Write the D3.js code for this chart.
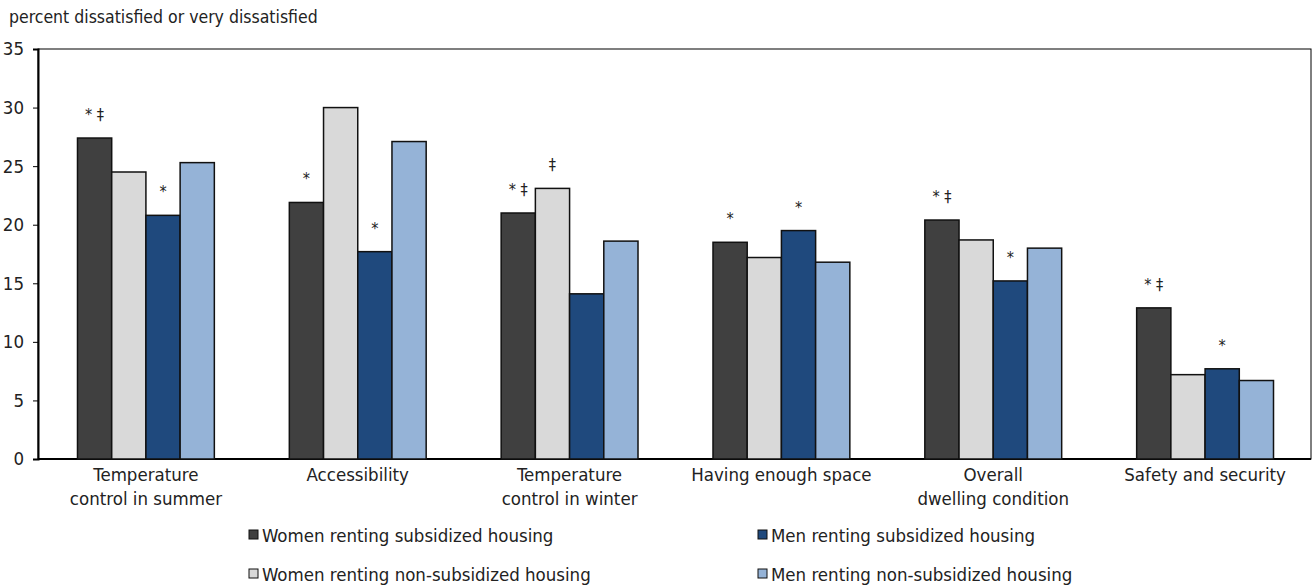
<!DOCTYPE html>
<html>
<head>
<meta charset="utf-8">
<script src="https://cdn.jsdelivr.net/npm/d3@7"></script>
<style>
  body { margin: 0; background: #fff; }
  text { font-family: "Liberation Sans Narrow", "DejaVu Sans Condensed", sans-serif; fill: #222; }
</style>
</head>
<body>
<div id="container"></div>
<script>
const categories = [
  ["Temperature", "control in summer"],
  ["Accessibility"],
  ["Temperature", "control in winter"],
  ["Having enough space"],
  ["Overall", "dwelling condition"],
  ["Safety and security"]
];
const series = [
  "Women renting subsidized housing",
  "Women renting non-subsidized housing",
  "Men renting subsidized housing",
  "Men renting non-subsidized housing"
];
const womenSub    = [27.4, 21.9, 21.0, 18.5, 20.4, 12.9];
const womenNonSub = [24.5, 30.0, 23.1, 17.2, 18.7, 7.2];
const menSub      = [20.8, 17.7, 14.1, 19.5, 15.2, 7.7];
const menNonSub   = [25.3, 27.1, 18.6, 16.8, 18.0, 6.7];
// significance markers per category, per series
const markers = [
  ["* ‡", "", "*", ""],
  ["*", "", "*", ""],
  ["* ‡", "‡", "", ""],
  ["*", "", "*", ""],
  ["* ‡", "", "*", ""],
  ["* ‡", "", "*", ""]
];
const yTicks = [0, 5, 10, 15, 20, 25, 30, 35];
const colors = ["#404040", "#d9d9d9", "#1f497d", "#95b3d7"];

const values = [womenSub, womenNonSub, menSub, menNonSub];

const width = 1313, height = 588;
const margin = { left: 38, right: 2, top: 49, bottom: 129 };

const svg = d3.select("#container").append("svg")
  .attr("width", width).attr("height", height);

const x0 = d3.scaleBand()
  .domain(d3.range(categories.length))
  .range([margin.left + 2, width - margin.right])
  .paddingInner(0.354).paddingOuter(0.177);
const x1 = d3.scaleBand()
  .domain(d3.range(series.length))
  .range([0, x0.bandwidth()]);
const y = d3.scaleLinear().domain([0, 35]).range([height - margin.bottom, margin.top]);

// frame
svg.append("rect")
  .attr("x", margin.left).attr("y", margin.top)
  .attr("width", width - margin.right - margin.left)
  .attr("height", y(0) - margin.top)
  .attr("fill", "none").attr("stroke", "#000").attr("stroke-width", 1);

// y axis
const yAxis = svg.append("g")
  .attr("transform", `translate(${margin.left},0)`)
  .call(d3.axisLeft(y).tickValues(yTicks).tickSize(5).tickPadding(9));
yAxis.select(".domain").attr("stroke", "#000").attr("stroke-width", 2);
yAxis.selectAll("text").style("font-size", "18.5px").attr("fill", "#222");

// x baseline
svg.append("line")
  .attr("x1", margin.left).attr("x2", width - margin.right)
  .attr("y1", y(0)).attr("y2", y(0))
  .attr("stroke", "#000").attr("stroke-width", 2);

// bars
const groups = svg.selectAll("g.grp").data(categories).enter().append("g")
  .attr("class", "grp")
  .attr("transform", (d, i) => `translate(${x0(i)},0)`);

groups.each(function(cat, ci) {
  const g = d3.select(this);
  series.forEach((s, si) => {
    const v = values[si][ci];
    g.append("rect")
      .attr("x", x1(si)).attr("y", y(v))
      .attr("width", x1.bandwidth()).attr("height", y(0) - y(v))
      .attr("fill", colors[si]).attr("stroke", "#111").attr("stroke-width", 1.5);
    if (markers[ci][si]) {
      g.append("text")
        .attr("x", x1(si) + x1.bandwidth() / 2)
        .attr("y", y(v) - 18)
        .attr("text-anchor", "middle")
        .style("font-size", "16px")
        .text(markers[ci][si]);
    }
  });
  const t = g.append("text")
    .attr("text-anchor", "middle")
    .style("font-size", "18.5px");
  cat.forEach((line, li) => {
    t.append("tspan")
      .attr("x", x0.bandwidth() / 2)
      .attr("y", y(0) + 22 + li * 24)
      .text(line);
  });
});

// title
svg.append("text")
  .attr("x", 9).attr("y", 23)
  .style("font-size", "17.5px")
  .text("percent dissatisfied or very dissatisfied");

// legend
const legendPos = [[249, 535], [249, 574], [758, 535], [758, 574]];
series.forEach((s, si) => {
  const [lx, ly] = legendPos[si];
  svg.append("rect")
    .attr("x", lx).attr("y", ly - 5)
    .attr("width", 9).attr("height", 9)
    .attr("fill", colors[si]).attr("stroke", "#111").attr("stroke-width", 1);
  svg.append("text")
    .attr("x", lx + 13).attr("y", ly + 7)
    .style("font-size", "18.5px")
    .text(s);
});
</script>
</body>
</html>
